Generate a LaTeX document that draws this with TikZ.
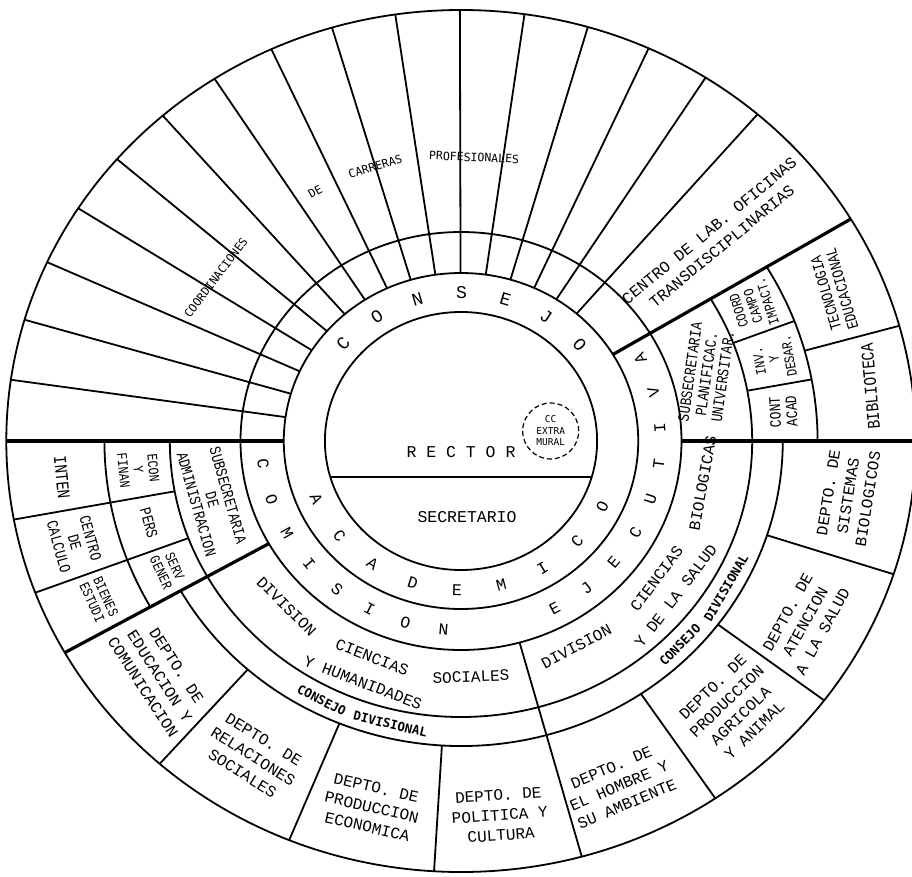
\documentclass[tikz,border=0pt]{standalone}
\usepackage{fontspec}
\setmainfont{Liberation Serif}
\setmonofont{Liberation Mono}
\newfontfamily\lero{DejaVu Sans Mono}
\newfontfamily\condmono[FakeStretch=0.8]{Liberation Mono}
\begin{document}
\begin{tikzpicture}[x=1pt,y=1pt,
  ln/.style={line width=1.8pt},
  thk/.style={line width=3.2pt},
  tw/.style={font=\ttfamily\fontsize{16}{20}\selectfont, align=center, inner sep=0pt},
  sm/.style={font=\condmono\fontsize{16}{16.5}\selectfont, align=center, inner sep=0pt},
  smn/.style={font=\condmono\fontsize{14.5}{15}\selectfont, align=center, inner sep=0pt},
  big/.style={font=\condmono\fontsize{18}{18.5}\selectfont, align=center, inner sep=0pt},
  ringA/.style={font=\ttfamily\fontsize{18}{18}\selectfont, inner sep=0pt},
  ringB/.style={font=\ttfamily\fontsize{16.5}{16.5}\selectfont, inner sep=0pt},
  lerob/.style={font=\lero\bfseries\fontsize{12.5}{14}\selectfont, inner sep=0pt},
  lerol/.style={font=\lero\fontsize{11.5}{13}\selectfont, inner sep=0pt},
]
\useasboundingbox (0,0) rectangle (912,-877);
\fill[white] (0,0) rectangle (912,-877);
\begin{scope}[shift={(461,-441)}, xscale=1.055]
  % circles and arcs
  \draw[ln] (0,0) circle[radius=431];
  \draw[ln] (0,0) circle[radius=129];
  \draw[ln] (0,0) circle[radius=168];
  \draw[ln] (0,0) circle[radius=209];
  \draw[ln] (180:276) arc[start angle=180, end angle=391, radius=276];
  \draw[ln] (209.4:305) arc[start angle=209.4, end angle=360, radius=305];
  \draw[ln] (180:338) arc[start angle=180, end angle=209.4, radius=338];
  \draw[ln] (0:338) arc[start angle=0, end angle=31, radius=338];
  \draw[ln] (196.2:129) -- (-16.2:129);
  % radial lines
  \draw[thk] (180:168) -- (180:431);
  \draw[thk] (0:209) -- (0:431);
  \draw[thk] (31:168) -- (31:431);
  \draw[thk] (209.4:209) -- (209.4:431);
  \draw[ln] (285.4:209) -- (285.4:431);
  \foreach \a in {228.5,247.8,266.6,304,323,342} \draw[ln] (\a:305) -- (\a:431);
  \foreach \a in {190.5,200.6} \draw[ln] (\a:276) -- (\a:431);
  \foreach \a in {10.5,20.8} \draw[ln] (\a:276) -- (\a:338);
  \draw[ln] (15.5:338) -- (15.5:431);
  \foreach \k in {1,...,16} \draw[ln] ({180-8.169*\k}:168) -- ({180-8.169*\k}:431);

  % centre
  \node[ringB] (rector) at (0,-11) {R E C T O R};
  \node[ringB] (secr) at (5.7,-76) {SECRETARIO};
  \node[draw, dash pattern=on 5pt off 3pt, circle, minimum size=56pt, inner sep=0pt, line width=1.2pt,
        font=\lero\fontsize{9.5}{11.5}\selectfont, align=center] (cc) at (85,10) {CC\\EXTRA\\MURAL};

  % ring letters
  \foreach \l [count=\i from 0] in {C,O,N,S,E,J,O}
    \node[ringA, rotate={49-16.4*\i}] (cs\i) at ({139-16.4*\i}:148) {\l};
  \foreach \l [count=\i from 0] in {A,C,A,D,E,M,I,C,O}
    \node[ringB, rotate={-67+16.375*\i}] (ac\i) at ({203+16.375*\i}:149) {\l};
  \foreach \l [count=\i from 0] in {C,O,M,I,S,I,O,N}
    \node[ringB, rotate={-83+11.14*\i}] (cm\i) at ({187+11.14*\i}:189) {\l};
  \foreach \l [count=\i from 0] in {E,J,E,C,U,T,I,V,A}
    \node[ringB, rotate={28+11*\i}] (ej\i) at ({298+11*\i}:189) {\l};

  % coordinaciones
  \node[lerol, rotate=53] (co1) at (144.9:284) {COORDINACIONES};
  \node[lerol, rotate=29] (co2) at (119:285) {DE};
  \node[lerol, rotate=16.5] (co3) at (106.5:286) {CARRERAS};
  \node[lerol, rotate=-2.5] (co4) at (87.5:284) {PROFESIONALES};

  \node[tw, rotate=39.5] (centro) at (40:315) {CENTRO DE LAB. OFICINAS\\TRANSDISCIPLINARIAS};

  % planificacion sector
  \node[sm, rotate=82] (subpl) at (16:242) {SUBSECRETARIA\\PLANIFICAC.\\UNIVERSITAR.};
  \node[sm, rotate=93] (cont) at (5.5:307) {CONT\\ACAD};
  \node[smn, rotate=100] (inv) at (15.5:308) {INV.\\Y\\DESAR.};
  \node[smn, rotate=108] (coord) at (26:308) {COORD\\CAMPO\\IMPACT.};
  \node[big, rotate=95] (bibl) at (8:392) {BIBLIOTECA};
  \node[sm, rotate=106] (tecn) at (23:384) {TECNOLOGIA\\EDUCACIONAL};

  % administracion sector
  \node[sm, rotate=-74] (subad) at (194:243) {SUBSECRETARIA\\DE\\ADMINISTRACION};
  \node[smn, rotate=-84.5] (econ) at (185.3:307) {ECON\\Y\\FINAN};
  \node[sm, rotate=-74.5] (pers) at (195.5:307) {PERS};
  \node[smn, rotate=-65] (serv) at (204.8:306) {SERV\\GENER};
  \node[big, rotate=-84.5] (intn) at (185.5:380) {INTEN};
  \node[sm, rotate=-74.5] (ccal) at (195.5:380) {CENTRO\\DE\\CALCULO};
  \node[smn, rotate=-65.5] (bien) at (204.8:378) {BIENES\\ESTUDI};

  % divisions
  \node[tw, rotate=-45] (ds1) at (225:234) {DIVISION};
  \node[tw, rotate=-21.3] (ds2) at (248.7:232) {CIENCIAS};
  \node[tw, rotate=2.3] (ds3) at (272.3:236) {SOCIALES};
  \node[tw, rotate=-21] (ds4) at (249:259) {Y HUMANIDADES};
  \node[tw, rotate=28] (db1) at (298:233) {DIVISION};
  \node[tw, rotate=53.4] (db2) at (323.4:231) {CIENCIAS};
  \node[tw, rotate=79.6] (db3) at (349.6:233) {BIOLOGICAS};
  \node[tw, rotate=52.7] (db4) at (322.7:256) {Y DE LA SALUD};

  % consejo divisional
  \node[lerob, rotate=-27] (cd1) at (243:291) {CONSEJO};
  \node[lerob, rotate=-13.3] (cd2) at (256.7:291) {DIVISIONAL};
  \node[lerob, rotate=45.5] (cd3) at (315.5:291) {CONSEJO};
  \node[lerob, rotate=59.7] (cd4) at (329.7:291) {DIVISIONAL};

  % departamentos
  \node[tw, rotate=-57] (dp1) at (219.5:370) {DEPTO. DE\\EDUCACION Y\\COMUNICACION};
  \node[tw, rotate=-32] (dp2) at (238:372) {DEPTO. DE\\RELACIONES\\SOCIALES};
  \node[tw, rotate=-13] (dp3) at (257:376) {DEPTO. DE\\PRODUCCION\\ECONOMICA};
  \node[tw, rotate=4] (dp4) at (275.6:376) {DEPTO. DE\\POLITICA Y\\CULTURA};
  \node[tw, rotate=23] (dp5) at (293.5:376) {DEPTO. DE\\EL HOMBRE Y\\SU AMBIENTE};
  \node[tw, rotate=44] (dp6) at (314:372) {DEPTO. DE\\PRODUCCION\\AGRICOLA\\Y ANIMAL};
  \node[tw, rotate=61] (dp7) at (331:373) {DEPTO. DE\\ATENCION\\A LA SALUD};
  \node[tw, rotate=81] (dp8) at (351.5:371) {DEPTO. DE\\SISTEMAS\\BIOLOGICOS};
\end{scope}
\end{tikzpicture}
\end{document}
